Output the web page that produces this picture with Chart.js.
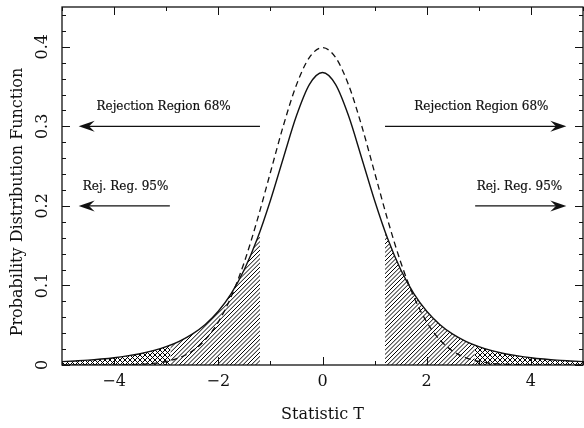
<!DOCTYPE html>
<html>
  <head>
    <script src="https://cdn.jsdelivr.net/npm/chart.js@4"></script>
    <style>
      body { margin: 0; background: #fff; }
    </style>
  </head>

  <body>
    <canvas id="canvas" width="584" height="428"></canvas>
    <script>
      // sample points of the statistic T
      const tGrid = [
        -5, -4.75, -4.5, -4.25, -4, -3.75, -3.5, -3.25, -3, -2.75, -2.5, -2.25, -2, -1.75, -1.5, -1.25, -1, -0.75, -0.5,
        -0.25, 0, 0.25, 0.5, 0.75, 1, 1.25, 1.5, 1.75, 2, 2.25, 2.5, 2.75, 3, 3.25, 3.5, 3.75, 4, 4.25, 4.5, 4.75, 5,
      ];
      // Student t density (solid)
      const studentT = [
        0.0042, 0.0051, 0.0061, 0.0075, 0.0092, 0.0114, 0.0142, 0.018, 0.023, 0.0297, 0.0387, 0.0509, 0.0675, 0.09,
        0.12, 0.1589, 0.2068, 0.2606, 0.3132, 0.3527, 0.3676, 0.3527, 0.3132, 0.2606, 0.2068, 0.1589, 0.12, 0.09,
        0.0675, 0.0509, 0.0387, 0.0297, 0.023, 0.018, 0.0142, 0.0114, 0.0092, 0.0075, 0.0061, 0.0051, 0.0042,
      ];
      // Gaussian density (dashed)
      const gauss = [
        0, 0, 0, 0.0001, 0.0001, 0.0004, 0.0009, 0.002, 0.0044, 0.0091, 0.0175, 0.0317, 0.054, 0.0863, 0.1295, 0.1827,
        0.242, 0.3011, 0.3521, 0.3867, 0.3989, 0.3867, 0.3521, 0.3011, 0.242, 0.1827, 0.1295, 0.0863, 0.054, 0.0317,
        0.0175, 0.0091, 0.0044, 0.002, 0.0009, 0.0004, 0.0001, 0.0001, 0, 0, 0,
      ];
      // rejection cuts and the density there
      const cutT = [1.2, 2.92];
      const cutDensity = [0.1678, 0.0249];

      // arrows: level, start, tip, label and label centre
      const arrowLevels = [0.3, 0.2];
      const arrowStarts = [1.2, 2.93];
      const arrowTips = [4.68, 4.68];
      const arrowLabels = ['Rejection Region 68%', 'Rej. Reg. 95%'];
      const labelCentres = [3.05, 3.78];

      const xTickLabels = ['\u22124', '\u22122', '0', '2', '4'];
      const xTickValues = [-4, -2, 0, 2, 4];
      const yTickLabels = ['0', '0.1', '0.2', '0.3', '0.4'];
      const yTickValues = [0, 0.1, 0.2, 0.3, 0.4];

      const FONT = '"DejaVu Serif", serif';
      const INK = '#111';

      const pts = (ys) => tGrid.map((t, i) => ({ x: t, y: ys[i] }));

      // tail pieces of the t curve between two |T| limits
      function tail(side, lo, hi, loPt, hiPt) {
        const out = [];
        tGrid.forEach((t, i) => {
          const a = Math.abs(t);
          if (a > lo && a < hi && Math.sign(t) === side) out.push({ x: t, y: studentT[i] });
        });
        if (loPt) out.push({ x: side * loPt[0], y: loPt[1] });
        if (hiPt) out.push({ x: side * hiPt[0], y: hiPt[1] });
        return out.sort((p, q) => p.x - q.x);
      }

      function hatch(cross, period) {
        const n = Math.round(period * 4);
        const c = document.createElement('canvas');
        c.width = n;
        c.height = n;
        const g = c.getContext('2d');
        g.strokeStyle = '#000';
        g.lineWidth = 1;
        for (let k = -4; k <= 8; k++) {
          const o = k * period;
          g.beginPath();
          g.moveTo(o - n, n);
          g.lineTo(o + n, -n);
          g.stroke();
          if (cross) {
            g.beginPath();
            g.moveTo(o - n, 0);
            g.lineTo(o + n, 2 * n);
            g.stroke();
          }
        }
        return g.createPattern(c, 'repeat');
      }

      const ctx0 = document.getElementById('canvas').getContext('2d');
      const single = hatch(false, 4.25);
      const crossed = hatch(true, 5);

      const p68 = [cutT[0], cutDensity[0]];
      const p95 = [cutT[1], cutDensity[1]];

      const fillSet = (data, pattern) => ({
        data,
        borderWidth: 0,
        pointRadius: 0,
        fill: 'origin',
        backgroundColor: pattern,
        cubicInterpolationMode: 'monotone',
      });

      const frame = {
        id: 'frame',
        afterDraw(chart) {
          const { ctx, chartArea: a } = chart;
          const x = chart.scales.x;
          const y = chart.scales.y;
          const seg = (x1, y1, x2, y2) => {
            ctx.beginPath();
            ctx.moveTo(x1, y1);
            ctx.lineTo(x2, y2);
            ctx.stroke();
          };
          ctx.save();
          ctx.strokeStyle = INK;
          ctx.fillStyle = INK;
          ctx.lineWidth = 1.3;
          ctx.strokeRect(a.left, a.top, a.right - a.left, a.bottom - a.top);

          ctx.lineWidth = 1;
          for (let v = -5; v <= 5; v++) {
            const px = Math.round(x.getPixelForValue(v)) + 0.5;
            const len = v % 2 === 0 ? 8 : 4;
            seg(px, a.bottom, px, a.bottom - len);
            seg(px, a.top, px, a.top + len);
          }
          for (let i = 0; i <= 22; i++) {
            const py = Math.round(y.getPixelForValue(i * 0.02)) + 0.5;
            const len = i % 5 === 0 ? 8 : 4;
            seg(a.left, py, a.left + len, py);
            seg(a.right, py, a.right - len, py);
          }

          // tick labels
          ctx.font = '16px ' + FONT;
          ctx.textAlign = 'center';
          ctx.textBaseline = 'middle';
          xTickValues.forEach((v, i) => ctx.fillText(xTickLabels[i], x.getPixelForValue(v), a.bottom + 17));
          yTickValues.forEach((v, i) => {
            ctx.save();
            ctx.translate(a.left - 19, y.getPixelForValue(v));
            ctx.rotate(-Math.PI / 2);
            ctx.fillText(yTickLabels[i], 0, 0);
            ctx.restore();
          });

          // axis titles
          ctx.fillText('Statistic T', (a.left + a.right) / 2, 415);
          ctx.save();
          ctx.translate(18, 202);
          ctx.rotate(-Math.PI / 2);
          ctx.fillText('Probability Distribution Function', 0, 0);
          ctx.restore();

          // rejection arrows
          ctx.font = '12px ' + FONT;
          ctx.lineWidth = 1.1;
          arrowLevels.forEach((lvl, i) => {
            const py = y.getPixelForValue(lvl);
            [-1, 1].forEach((d) => {
              const sx = x.getPixelForValue(d * arrowStarts[i]);
              const tx = x.getPixelForValue(d * arrowTips[i]);
              const L = 16;
              const W = 5.5;
              seg(sx, py, tx - d * L * 0.6, py);
              ctx.beginPath();
              ctx.moveTo(tx, py);
              ctx.lineTo(tx - d * L, py - W);
              ctx.lineTo(tx - d * L * 0.65, py);
              ctx.lineTo(tx - d * L, py + W);
              ctx.closePath();
              ctx.fill();
              const lx = x.getPixelForValue(d * labelCentres[i]);
              ctx.fillText(arrowLabels[i], lx, py - 19);
              ctx.lineWidth = 0.2;
              ctx.strokeText(arrowLabels[i], lx, py - 19);
              ctx.lineWidth = 1.1;
            });
          });
          ctx.restore();
        },
      };

      new Chart(ctx0, {
        type: 'line',
        data: {
          datasets: [
            {
              data: pts(studentT),
              borderColor: INK,
              borderWidth: 1.4,
              pointRadius: 0,
              fill: false,
              cubicInterpolationMode: 'monotone',
            },
            {
              data: pts(gauss),
              borderColor: INK,
              borderWidth: 1.3,
              borderDash: [6, 4],
              pointRadius: 0,
              fill: false,
              cubicInterpolationMode: 'monotone',
            },
            fillSet(tail(-1, cutT[0], cutT[1], p68, p95), single),
            fillSet(tail(1, cutT[0], cutT[1], p68, p95), single),
            fillSet(tail(-1, cutT[1], 5.01, p95, null), crossed),
            fillSet(tail(1, cutT[1], 5.01, p95, null), crossed),
          ],
        },
        options: {
          responsive: false,
          animation: false,
          layout: { padding: { left: 62, top: 7, right: 1, bottom: 63 } },
          plugins: { legend: { display: false }, tooltip: { enabled: false } },
          scales: {
            x: { type: 'linear', min: -5, max: 5, display: false },
            y: { type: 'linear', min: 0, max: 0.45, display: false },
          },
        },
        plugins: [frame],
      });
    </script>
  </body>
</html>
